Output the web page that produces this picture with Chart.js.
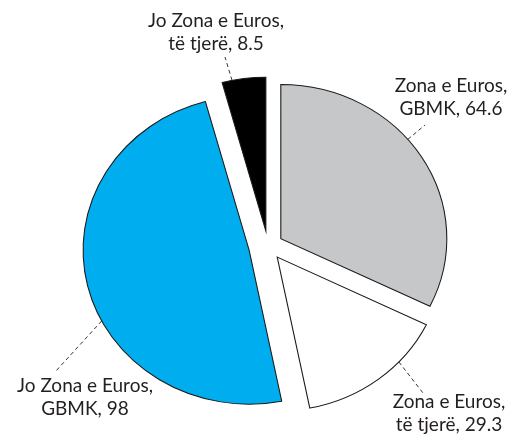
<!DOCTYPE html>
<html>
<head>
<meta charset="utf-8">
<script src="https://cdn.jsdelivr.net/npm/chart.js@4.4.1/dist/chart.umd.min.js"></script>
<style>
  html, body { margin: 0; padding: 0; background: #fff; }
  #wrap { width: 517px; height: 439px; }
</style>
</head>
<body>
<div id="wrap"><canvas id="grafico" width="517" height="439"></canvas></div>
<script>
// datos
let categorias = ["Zona e Euros, GBMK", "Zona e Euros, të tjerë", "Jo Zona e Euros, GBMK", "Jo Zona e Euros, të tjerë"];
let valores = [64.6, 29.3, 98, 8.5];
let etiquetas = [
    ["Zona e Euros,", "GBMK, 64.6"],
    ["Zona e Euros,", "të tjerë, 29.3"],
    ["Jo Zona e Euros,", "GBMK, 98"],
    ["Jo Zona e Euros,", "të tjerë, 8.5"]
];

let colores = ["#c6c7c9", "#ffffff", "#00aeef", "#000000"];
// separacion de cada porcion en px
let separacion = [14, 14, 18, 15];
let estirarX = 1.078;

// posicion de cada etiqueta: centro del texto, linea base de la 1a linea, fin de la linea punteada, punto sobre el arco (0-1)
let posEtiquetas = [
    {x: 451, y: 92, lx: 425, ly: 125, t: 0.43},
    {x: 449, y: 408, lx: 423, ly: 393, t: 0.32},
    {x: 85, y: 392, lx: 55, ly: 372, t: 0.42},
    {x: 216, y: 27, lx: 225, ly: 57, t: 0.23}
];

// dibuja cada porcion separada del centro y el pastel un poco ancho
const separar = {
    id: "separar",
    beforeDatasetDraw(chart, args) {
        const ctx = chart.ctx;
        const arcos = args.meta.data;
        const cx = arcos[0].x;
        ctx.save();
        ctx.translate(cx, 0);
        ctx.scale(estirarX, 1);
        ctx.translate(-cx, 0);
        arcos.forEach((arco, i) => {
            const medio = (arco.startAngle + arco.endAngle) / 2;
            ctx.save();
            ctx.translate(Math.cos(medio) * separacion[i], Math.sin(medio) * separacion[i]);
            arco.draw(ctx, chart.chartArea);
            ctx.restore();
        });
        ctx.restore();
        return false;
    }
};

const etiquetasPie = {
    id: "etiquetasPie",
    afterDraw(chart) {
        const ctx = chart.ctx;
        const arcos = chart.getDatasetMeta(0).data;
        ctx.save();
        arcos.forEach((arco, i) => {
            const p = posEtiquetas[i];
            const medio = (arco.startAngle + arco.endAngle) / 2;
            const off = separacion[i];
            const r = arco.outerRadius;
            const a = arco.startAngle + p.t * (arco.endAngle - arco.startAngle);
            let px = arco.x + Math.cos(medio) * off + Math.cos(a) * r;
            let py = arco.y + Math.sin(medio) * off + Math.sin(a) * r;
            px = arco.x + (px - arco.x) * estirarX;

            ctx.strokeStyle = "#000";
            ctx.lineWidth = 0.8;
            ctx.setLineDash([4, 3]);
            ctx.beginPath();
            ctx.moveTo(px, py);
            ctx.lineTo(p.lx, p.ly);
            ctx.stroke();

            ctx.setLineDash([]);
            ctx.fillStyle = "#231f20";
            ctx.font = "19px Lato";
            ctx.textAlign = "center";
            ctx.textBaseline = "alphabetic";
            etiquetas[i].forEach((linea, j) => {
                ctx.fillText(linea, p.x, p.y + j * 23);
            });
        });
        ctx.restore();
    }
};

const ctx = document.getElementById("grafico");

let grafico = new Chart(ctx, {
    type: "pie",
    data: {
        labels: categorias,
        datasets: [{
            data: valores,
            backgroundColor: colores,
            borderColor: "#1a1a1a",
            borderWidth: 1,
            borderJoinStyle: "miter",
            clip: false
        }]
    },
    options: {
        responsive: false,
        animation: false,
        radius: 154,
        layout: {
            padding: {left: 19, right: 0, top: 53, bottom: 0}
        },
        plugins: {
            legend: {display: false},
            tooltip: {enabled: false}
        }
    },
    plugins: [separar, etiquetasPie]
});
</script>
</body>
</html>
